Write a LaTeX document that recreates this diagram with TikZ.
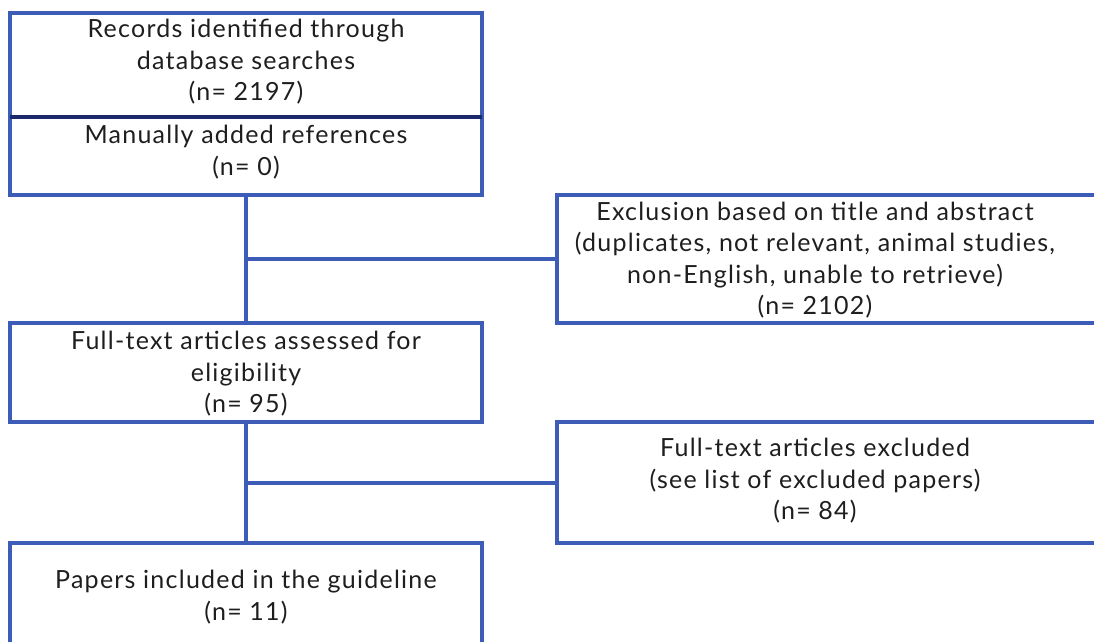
\documentclass[tikz,border=0pt]{standalone}
\usepackage{fontspec}
\setmainfont{Lato}[LetterSpace=5]
\definecolor{frameblue}{HTML}{3C5CB8}
\definecolor{framenavy}{HTML}{1B2A6B}
\definecolor{inkgray}{HTML}{1E1E1E}
\begin{document}
\begin{tikzpicture}[x=1pt,y=-1pt,
  box/.style={draw=frameblue,line width=4pt,rectangle,inner sep=0pt,outer sep=0pt},
  label/.style={align=center,text=inkgray,inner sep=0pt,
    font=\fontsize{25}{31.5}\selectfont},
  link/.style={draw=frameblue,line width=4pt}]
\useasboundingbox (0,0) rectangle (1094,641);
\clip (0,0) rectangle (1094,641);
% left column boxes
\node[box,minimum width=472pt,minimum height=104pt] (b1) at (246,65) {};
\node[box,minimum width=472pt,minimum height=78pt] (b2) at (246,156) {};
\node[box,minimum width=472pt,minimum height=99pt] (b3) at (246,372.5) {};
\node[box,minimum width=472pt,minimum height=117pt] (b6) at (246,601.5) {};
% right column boxes
\node[box,minimum width=553pt,minimum height=128pt] (b4) at (833.5,259) {};
\node[box,minimum width=553pt,minimum height=121pt] (b5) at (833.5,482.5) {};
% divider between the first two boxes
\draw[draw=framenavy,line width=4pt] (b1.south west) -- (b1.south east);
% connectors
\draw[link] (b2.south) -- (b3.north);
\draw[link] (b2.south |- b4.west) -- (b4.west);
\draw[link] (b3.south) -- (b6.north);
\draw[link] (b3.south |- b5.west) -- (b5.west);
% texts
\node[label] (t1) at (246,62) {Records identified through\\database searches\\(n= 2197)};
\node[label] (t2) at (246,152) {Manually added references\\(n= 0)};
\node[label] (t4) at (815,260) {Exclusion based on title and abstract\\(duplicates, not relevant, animal studies,\\non-English, unable to retrieve)\\(n= 2102)};
\node[label] (t3) at (246,374) {Full-text articles assessed for\\eligibility\\(n= 95)};
\node[label] (t5) at (815,481) {Full-text articles excluded\\(see list of excluded papers)\\(n= 84)};
\node[label] (t6) at (246,597) {Papers included in the guideline\\(n= 11)};
\end{tikzpicture}
\end{document}
